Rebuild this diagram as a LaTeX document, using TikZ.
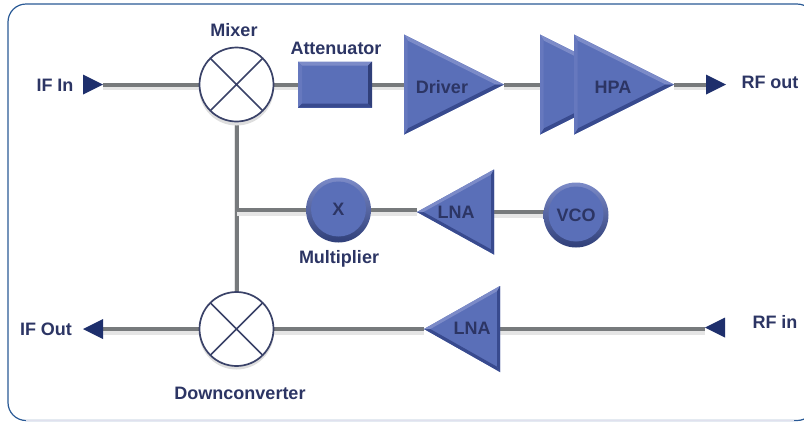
\documentclass[tikz,border=0pt]{standalone}
\usepackage{fontspec}
\setmainfont{Liberation Sans}
\usetikzlibrary{shapes.geometric,calc,backgrounds}
\definecolor{frameblue}{HTML}{2A5A96}
\definecolor{textnavy}{HTML}{2C3564}
\definecolor{tipnavy}{HTML}{1E2F6C}
\definecolor{bodyblue}{HTML}{5A6FB8}
\definecolor{lightedge}{HTML}{7C8BC8}
\definecolor{midedge}{HTML}{6678BE}
\definecolor{darkedge}{HTML}{384A8E}
\definecolor{wiregray}{HTML}{777A7C}
\definecolor{ringnavy}{HTML}{3A4268}
\definecolor{softline}{HTML}{E0E1EE}
\tikzset{
  lbl/.style={font=\bfseries\fontsize{18}{20}\selectfont,text=textnavy,inner sep=0pt},
  wire/.style={draw=wiregray,line width=4pt,
    preaction={draw=black!10,line width=5pt,transform canvas={yshift=-3pt}}},
  tip/.style={isosceles triangle,isosceles triangle stretches,shape border rotate=#1,
    minimum width=20pt,minimum height=20pt,inner sep=0pt,outer sep=0pt,fill=tipnavy},
  amp/.style n args={3}{isosceles triangle,isosceles triangle stretches,shape border rotate=#1,
    minimum width=#2,minimum height=#3,inner sep=0pt,outer sep=0pt,fill=bodyblue},
  ring/.style={circle,minimum size=74pt,inner sep=0pt,outer sep=0pt,draw=ringnavy,line width=1.7pt,fill=white},
  knob/.style={circle,minimum size=#1,inner sep=0pt,outer sep=0pt,top color=lightedge,bottom color=darkedge!85!black},
  frameline/.style={draw=frameblue,line width=1.2pt,rounded corners=18pt},
}
% bevels: facets between a triangle's outer corners and an inset copy
\newcommand{\ampbevel}[4]{%
  \coordinate (#1-c) at ($(#1.lower side)!0.31!(#1.apex)$);
  \coordinate (#1-a) at ($(#1.apex)!0.12!(#1-c)$);
  \coordinate (#1-l) at ($(#1.left corner)!0.12!(#1-c)$);
  \coordinate (#1-r) at ($(#1.right corner)!0.12!(#1-c)$);
  \fill[#2] (#1.apex) -- (#1.left corner) -- (#1-l) -- (#1-a) -- cycle;
  \fill[#3] (#1.apex) -- (#1.right corner) -- (#1-r) -- (#1-a) -- cycle;
  \fill[#4] (#1.left corner) -- (#1.right corner) -- (#1-r) -- (#1-l) -- cycle;
}
\newcommand{\ringcross}[1]{%
  \draw[ringnavy,line width=1.5pt] (#1.45) -- (#1.225) (#1.135) -- (#1.315);
}
\newcommand{\knobface}[2]{%
  \fill[bodyblue] ($(#1)+(0,-1)$) circle (#2);
}
\begin{document}
\begin{tikzpicture}[x=1pt,y=-1pt]
\useasboundingbox (0,0) rectangle (804,421);
\begin{scope}
  \clip (0,0) rectangle (804,421);
  \draw[frameline] (8,4) rectangle (815,420.5);
  \fill[softline] (26,419.6) rectangle (794,421);
\end{scope}

% shadows of the mixers
\fill[black!13] (236.5,88) circle (37.5);
\fill[black!13] (236.5,332) circle (37.5);

% blocks
\node[ring] (mixer) at (236.5,84.5) {};
\ringcross{mixer}
\node[ring] (down) at (236.5,329) {};
\ringcross{down}

\node[tip=0,anchor=lower side] (ifin) at (83,84.5) {};
\node[tip=0,anchor=lower side] (rfout) at (706,84.5) {};
\node[tip=180,anchor=lower side] (ifout) at (103,329) {};
\node[tip=180,anchor=lower side] (rfin) at (725,327.5) {};

\node[draw=none,fill=bodyblue,minimum width=74pt,minimum height=46pt,inner sep=0pt,outer sep=0pt] (atten) at (335,84.5) {};
\fill[lightedge] (atten.north west) -- (atten.north east) -- ++(-4,4) -- ($(atten.north west)+(4,4)$) -- cycle;
\fill[midedge] (atten.north west) -- (atten.south west) -- ++(4,-4) -- ($(atten.north west)+(4,4)$) -- cycle;
\fill[darkedge] (atten.south west) -- (atten.south east) -- ++(-4,-4) -- ($(atten.south west)+(4,-4)$) -- cycle;
\fill[darkedge!85!black] (atten.north east) -- (atten.south east) -- ++(-4,-4) -- ($(atten.north east)+(-4,4)$) -- cycle;

\node[amp={0}{100pt}{100pt},anchor=lower side] (driver) at (404,84.5) {};
\ampbevel{driver}{lightedge}{darkedge}{midedge}
\node[amp={0}{100pt}{100pt},anchor=lower side] (hpaback) at (540,84.5) {};
\ampbevel{hpaback}{lightedge}{darkedge}{midedge}
\node[amp={0}{100pt}{100pt},anchor=lower side] (hpa) at (574,84.5) {};
\ampbevel{hpa}{lightedge}{darkedge}{midedge}
\node[amp={180}{85pt}{77pt},anchor=lower side] (lnaone) at (494,212) {};
\ampbevel{lnaone}{darkedge}{lightedge}{darkedge}
\node[amp={180}{86pt}{76pt},anchor=lower side] (lnatwo) at (500,329) {};
\ampbevel{lnatwo}{darkedge}{lightedge}{darkedge}

\node[knob=65pt] (mult) at (338.5,210) {};
\knobface{mult}{27.5}
\node[knob=65pt] (vco) at (576,215) {};
\knobface{vco}{27.5}

% connectors
\begin{scope}[on background layer]
  \fill[white] (0,0) rectangle (804,421);
  \coordinate (tee) at (mixer.south |- mult.west);
  \draw[wire] (ifin.apex) -- (mixer.west);
  \draw[wire] (mixer.east) -- (atten.west);
  \draw[wire] (atten.east) -- (driver.lower side);
  \draw[wire] (driver.apex) -- (hpaback.lower side);
  \draw[wire] (hpa.apex) -- (rfout.lower side);
  \draw[wire] (mixer.south) -- (down.north);
  \draw[wire] (tee) -- (mult.west);
  \draw[wire] (mult.east) -- (mult.east -| lnaone.apex);
  \draw[wire] (lnaone.lower side) -- (lnaone.lower side -| vco.west);
  \draw[wire] (down.west) -- (ifout.lower side);
  \draw[wire] (down.east) -- (lnatwo.apex);
  \draw[wire] (lnatwo.lower side) -- (lnatwo.lower side -| rfin.apex);
\end{scope}

% labels
\node[lbl] (tifin) at (55,85) {IF In};
\node[lbl] (tmixer) at (234,30.5) {Mixer};
\node[lbl] (tatten) at (336,48.5) {Attenuator};
\node[lbl] (tdriver) at (442,87.5) {Driver};
\node[lbl] (thpa) at (613,87) {HPA};
\node[lbl] (trfout) at (770,82) {RF out};
\node[lbl] (tx) at (338.5,209) {X};
\node[lbl] (tlnaone) at (456,212) {LNA};
\node[lbl] (tvco) at (576,215) {VCO};
\node[lbl] (tmult) at (339,259) {Multiplier};
\node[lbl] (tifout) at (46,329) {IF Out};
\node[lbl] (tlnatwo) at (472,328) {LNA};
\node[lbl] (trfin) at (775,322) {RF in};
\node[lbl] (tdown) at (240,393) {Downconverter};
\end{tikzpicture}
\end{document}
